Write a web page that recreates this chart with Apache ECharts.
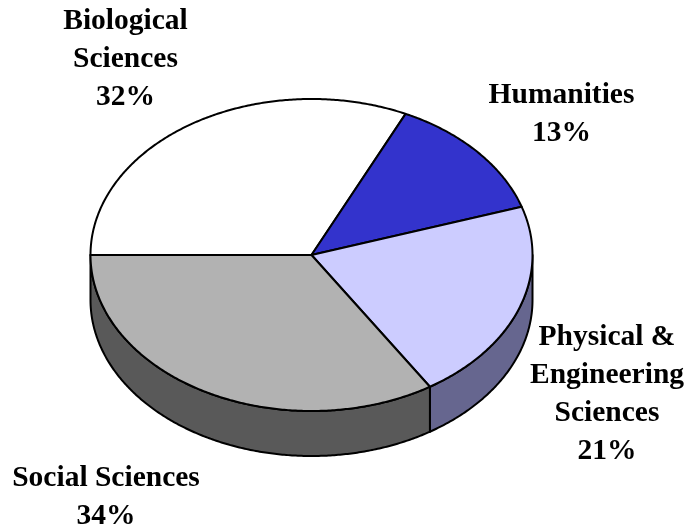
<!DOCTYPE html>
<html>
<head>
<meta charset="utf-8">
<script src="https://cdn.jsdelivr.net/npm/echarts@6/dist/echarts.min.js"></script>
<style>
  html, body { margin: 0; padding: 0; background: #fff; }
  #chart { width: 687px; height: 530px; }
</style>
</head>
<body>
<div id="chart"></div>
<script>
const categories = ['Biological\nSciences', 'Humanities', 'Physical &\nEngineering\nSciences', 'Social Sciences'];
const shares = [32, 13, 21, 34];

const topColors = ['#ffffff', '#3333cc', '#ccccff', '#b2b2b2'];
const sideColors = ['#7f7f7f', '#1a1a66', '#66668f', '#595959'];
const labelCenters = [[125.5, 59], [561.5, 114.5], [607, 394], [106, 497.5]];

const CX = 311.5, CY = 255, RX = 221, RY = 156, DEPTH = 45;
const START = 270; // degrees clockwise from 12 o'clock, slices begin at 9 o'clock
const total = shares.reduce((a, b) => a + b, 0);

function pointAt(deg, dy) {
  const r = deg * Math.PI / 180;
  return [CX + RX * Math.sin(r), CY - RY * Math.cos(r) + dy];
}

function arcPoints(from, to, dy) {
  const pts = [];
  const n = Math.max(2, Math.ceil(Math.abs(to - from) * 2));
  for (let i = 0; i <= n; i++) pts.push(pointAt(from + (to - from) * i / n, dy));
  return pts;
}

const chart = echarts.init(document.getElementById('chart'), null, { renderer: 'canvas' });
const lineStyle = { stroke: '#000', lineWidth: 2, lineJoin: 'round' };

// angle ranges for each slice, clockwise from the start (runs 270..630)
const ranges = [];
shares.reduce((acc, v) => {
  const next = acc + v / total * 360;
  ranges.push([acc, next]);
  return next;
}, START);

function renderWalls(params) {
  const [a, b] = ranges[params.dataIndex];
  // only the front half of the rim shows: 3 o'clock (450) round to 9 o'clock (630)
  const from = Math.max(a, 450), to = Math.min(b, 630);
  if (from >= to) return { type: 'group', children: [] };
  const pts = arcPoints(from, to, 0).concat(arcPoints(to, from, DEPTH));
  return {
    type: 'polygon',
    shape: { points: pts },
    style: Object.assign({ fill: sideColors[params.dataIndex] }, lineStyle)
  };
}

function renderTops(params) {
  const i = params.dataIndex;
  const [a, b] = ranges[i];
  const pts = [[CX, CY]].concat(arcPoints(a, b, 0));
  return {
    type: 'group',
    children: [
      {
        type: 'polygon',
        shape: { points: pts },
        style: Object.assign({ fill: topColors[i] }, lineStyle)
      },
      {
        type: 'text',
        x: labelCenters[i][0],
        y: labelCenters[i][1],
        style: {
          text: categories[i] + '\n' + shares[i] + '%',
          fill: '#000',
          font: 'bold 29.5px "Liberation Serif", serif',
          lineHeight: 38,
          align: 'center',
          verticalAlign: 'middle'
        }
      }
    ]
  };
}

chart.setOption({
  animation: false,
  backgroundColor: '#fff',
  series: [
    { type: 'custom', coordinateSystem: 'none', silent: true, data: shares, renderItem: renderWalls },
    { type: 'custom', coordinateSystem: 'none', silent: true, data: shares, renderItem: renderTops }
  ]
});
</script>
</body>
</html>
